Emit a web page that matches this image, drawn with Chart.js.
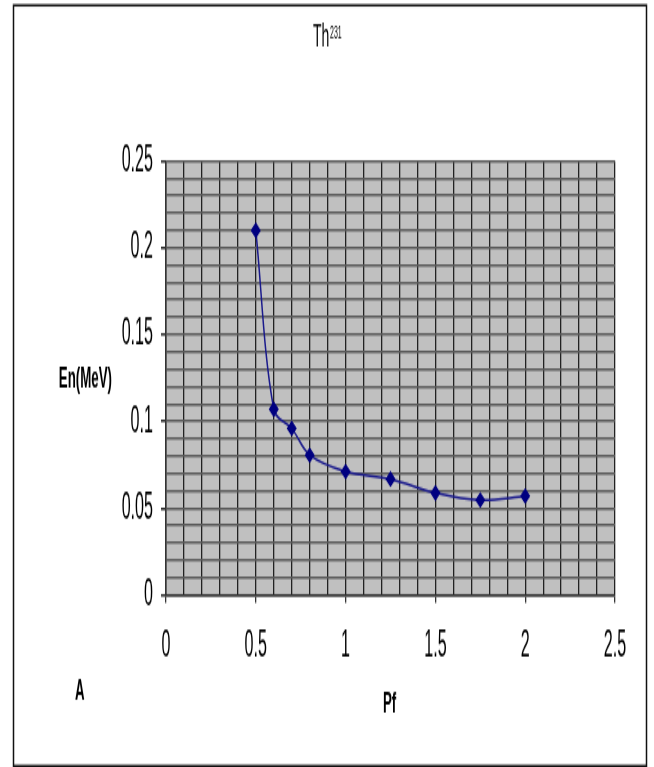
<!DOCTYPE html>
<html>
<head>
<meta charset="utf-8">
<script src="https://cdn.jsdelivr.net/npm/chart.js@4"></script>
<style>
    html, body { margin: 0; padding: 0; background: #fff; overflow: hidden; }
    #wrap { width: 654px; height: 767px; overflow: hidden; }
    /* the original picture is stretched vertically, so draw short and stretch */
    #chart { display: block; transform: scaleY(1.6013); transform-origin: 0 0; }
</style>
</head>
<body>
<div id="wrap"><canvas id="chart" width="654" height="479"></canvas></div>
<script>
const pfValues = [0.5, 0.6, 0.7, 0.8, 1.0, 1.25, 1.5, 1.75, 2.0];
const enValues = [0.210, 0.107, 0.096, 0.0806, 0.0711, 0.0668, 0.0588, 0.0547, 0.057];

const xTicks = [0, 0.5, 1, 1.5, 2, 2.5];
const xTickLabels = ['0', '0.5', '1', '1.5', '2', '2.5'];
const yTicks = [0, 0.05, 0.1, 0.15, 0.2, 0.25];
const yTickLabels = ['0', '0.05', '0.1', '0.15', '0.2', '0.25'];

const FONT = '"Liberation Sans", Arial, sans-serif';
const TEXT_SQUEEZE = 0.7;   // all text in the original is very condensed

function labelFor(value, ticks, labels) {
    const i = ticks.findIndex(t => Math.abs(t - value) < 1e-6);
    return i >= 0 ? labels[i] : '';
}

const canvas = document.getElementById('chart');
const ctx2d = canvas.getContext('2d');
const origFillText = ctx2d.fillText.bind(ctx2d);
ctx2d.fillText = function (text, x, y, maxWidth) {
    this.save();
    this.translate(x, y);
    this.scale(TEXT_SQUEEZE, 1);
    if (maxWidth === undefined) origFillText(text, 0, 0);
    else origFillText(text, 0, 0, maxWidth / TEXT_SQUEEZE);
    this.restore();
};

const plotBackground = {
    id: 'plotBackground',
    beforeDraw(chart) {
        const { ctx, chartArea: a } = chart;
        ctx.save();
        ctx.fillStyle = '#c0c0c0';
        ctx.fillRect(a.left, a.top, a.right - a.left, a.bottom - a.top);
        ctx.restore();
    }
};

const extraText = {
    id: 'extraText',
    afterDraw(chart) {
        const ctx = chart.ctx;
        ctx.save();
        // outer frame
        ctx.strokeStyle = '#111';
        ctx.lineWidth = 1.5;
        ctx.strokeRect(13.5, 3.3, 633, 475);

        ctx.fillStyle = '#000';
        ctx.textBaseline = 'alphabetic';
        ctx.textAlign = 'left';
        ctx.font = '20px ' + FONT;
        ctx.fillText('Th', 313, 29.4);
        ctx.font = '10px ' + FONT;
        ctx.fillText('231', 330, 23.7);

        ctx.font = 'bold 19px ' + FONT;
        ctx.textAlign = 'right';
        ctx.fillText('En(MeV)', 112, 242);
        ctx.textAlign = 'left';
        ctx.fillText('A', 75, 437);
        ctx.fillText('Pf', 383, 445);
        ctx.restore();
    }
};

new Chart(canvas, {
    type: 'scatter',
    data: {
        datasets: [{
            data: pfValues.map((x, i) => ({ x: x, y: enValues[i] })),
            showLine: true,
            borderColor: '#1a1a8c',
            borderWidth: 1.5,
            tension: 0.35,
            pointStyle: 'rectRot',
            pointRadius: 4,
            pointBackgroundColor: '#000080',
            pointBorderColor: '#000080'
        }]
    },
    options: {
        responsive: false,
        animation: false,
        layout: { padding: { top: 100.5, left: 0, right: 39, bottom: 0 } },
        plugins: { legend: { display: false }, tooltip: { enabled: false } },
        scales: {
            x: {
                type: 'linear',
                min: 0,
                max: 2.5,
                afterFit(scale) { scale.height = 107.4; },
                border: { color: '#333', width: 1.5 },
                grid: {
                    color: '#222',
                    lineWidth: 1.3,
                    tickLength: 5,
                    tickColor: c => labelFor(c.tick.value, xTicks, xTickLabels) ? '#333' : 'rgba(0,0,0,0)'
                },
                ticks: {
                    stepSize: 0.1,
                    autoSkip: false,
                    maxRotation: 0,
                    padding: 13,
                    color: '#000',
                    font: { family: FONT, size: 23 },
                    callback: v => labelFor(v, xTicks, xTickLabels)
                }
            },
            y: {
                min: 0,
                max: 0.25,
                afterFit(scale) { scale.width = 166; },
                border: { color: '#333', width: 1.5 },
                grid: {
                    color: '#5a5a5a',
                    lineWidth: 1.6,
                    tickLength: 5,
                    tickColor: c => labelFor(c.tick.value, yTicks, yTickLabels) ? '#333' : 'rgba(0,0,0,0)'
                },
                ticks: {
                    stepSize: 0.01,
                    autoSkip: false,
                    padding: 8,
                    color: '#000',
                    font: { family: FONT, size: 23 },
                    callback: v => labelFor(v, yTicks, yTickLabels)
                }
            }
        }
    },
    plugins: [plotBackground, extraText]
});
</script>
</body>
</html>
